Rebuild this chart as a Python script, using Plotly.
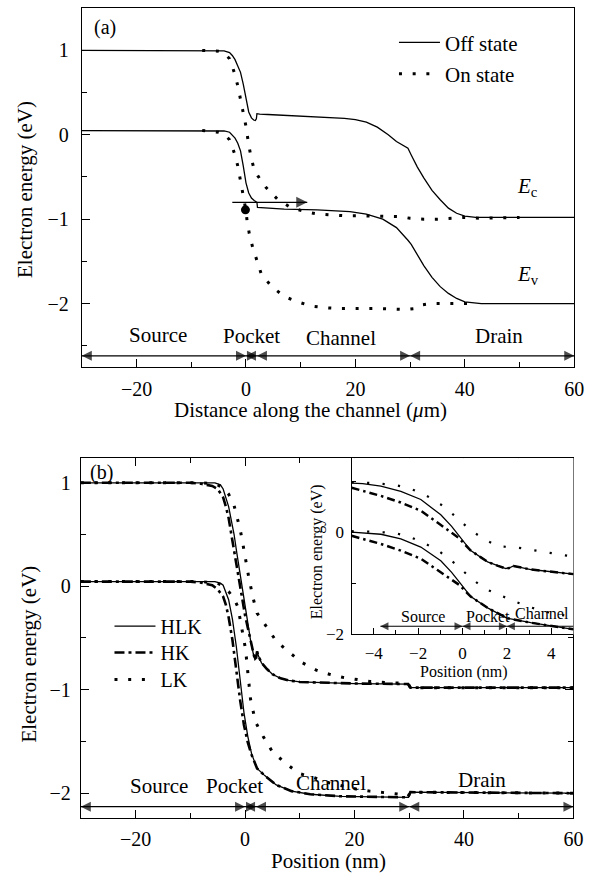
import plotly.graph_objects as go

FONT = "Liberation Serif, Times New Roman, Times, serif"

# ---------------- Panel (a): band diagram, off / on state ----------------
off_ec_x = [-30, -5, -4, -3, -2.5, -2, -1.5, -1, -0.5, 0, 0.5, 1.0, 1.4, 1.7, 1.9, 2.0, 2.5, 4, 7, 10, 15, 18, 20, 22, 24, 26, 27.5, 29, 29.6, 30.2, 31.3, 32.5, 34, 35.5, 37, 38.5, 40, 42, 60]
off_ec_y = [1.0, 1.0, 0.995, 0.975, 0.94, 0.89, 0.82, 0.74, 0.60, 0.41, 0.27, 0.20, 0.175, 0.17, 0.19, 0.25, 0.245, 0.24, 0.23, 0.22, 0.21, 0.195, 0.18, 0.15, 0.09, 0.0, -0.08, -0.14, -0.16, -0.24, -0.38, -0.51, -0.66, -0.77, -0.87, -0.93, -0.965, -0.98, -0.98]
off_ev_x = [-30, -5, -4, -3, -2.5, -2, -1.5, -1, -0.5, 0, 0.5, 1.0, 1.5, 2.0, 2.1, 4, 7, 13, 19, 22, 25, 27.5, 29, 29.6, 30.2, 31.3, 32.5, 34, 35.5, 37, 38.5, 40, 43, 60]
off_ev_y = [0.05, 0.05, 0.045, 0.03, 0.0, -0.04, -0.10, -0.19, -0.37, -0.57, -0.69, -0.75, -0.78, -0.80, -0.86, -0.87, -0.88, -0.89, -0.91, -0.94, -1.0, -1.10, -1.20, -1.25, -1.30, -1.42, -1.55, -1.69, -1.80, -1.88, -1.94, -1.98, -2.0, -2.0]
on_ec_x = [-8, -5, -4, -3, -2.5, -2, -1.5, -1, -0.5, 0, 0.5, 1.0, 1.5, 2.2, 3.6, 5.7, 8.1, 10.7, 13.2, 15.6, 18.2, 20.6, 25.7, 28.1, 30, 32.5, 35, 37.4, 40, 42.6, 50]
on_ec_y = [1.0, 0.99, 0.97, 0.90, 0.81, 0.71, 0.58, 0.43, 0.27, 0.10, -0.12, -0.29, -0.41, -0.49, -0.62, -0.76, -0.86, -0.91, -0.94, -0.95, -0.96, -0.96, -0.97, -0.97, -0.99, -1.0, -1.0, -0.99, -0.98, -0.99, -0.98]
on_ev_x = [-8, -5, -4, -3, -2.5, -2, -1.5, -1, -0.5, 0, 0.2, 0.6, 1.2, 2.0, 2.8, 4.7, 7.1, 9.5, 11.9, 14.5, 17, 24, 29.2, 30.7, 31.6, 34, 42]
on_ev_y = [0.05, 0.03, 0.01, -0.06, -0.15, -0.24, -0.37, -0.54, -0.70, -0.90, -1.02, -1.17, -1.33, -1.49, -1.65, -1.80, -1.92, -1.98, -2.03, -2.05, -2.06, -2.06, -2.07, -2.06, -2.02, -2.0, -2.0]
tunnel_x = [-2.5, 11.2]
tunnel_y = [-0.80, -0.80]
electron_x = [-0.1]
electron_y = [-0.89]

region_names = ["Source", "Pocket", "Channel", "Drain"]
region_bounds = [-30, 0, 2, 30, 60]

# ---------------- Panel (b): HLK / HK / LK ----------------
hlk_ec_x = [-30, -5.5, -4.5, -4, -3, -2, -1.5, -1, -0.5, 0, 0.5, 1.0, 1.5, 1.8, 2.0, 2.2, 2.5, 3, 4, 5, 6.5, 8, 10, 15, 20, 29.8, 30.2, 60]
hlk_ec_y = [1.0, 1.0, 0.98, 0.94, 0.77, 0.50, 0.32, 0.15, -0.03, -0.20, -0.37, -0.52, -0.65, -0.71, -0.70, -0.63, -0.68, -0.74, -0.80, -0.85, -0.89, -0.91, -0.925, -0.935, -0.94, -0.945, -0.98, -0.98]
hlk_ev_x = [-30, -5.5, -4.5, -4, -3, -2.3, -1.6, -0.9, -0.2, 0.5, 1.2, 2.2, 3.6, 5.7, 8.5, 11.9, 17.5, 29.8, 30.2, 60]
hlk_ev_y = [0.045, 0.045, 0.03, 0.01, -0.13, -0.32, -0.58, -0.93, -1.22, -1.45, -1.62, -1.76, -1.83, -1.92, -1.98, -2.01, -2.03, -2.04, -1.99, -2.0]
hk_ec_x = [-30, -10, -8, -6, -5, -4, -3.5, -3, -2.5, -2, -1.5, -1, -0.5, 0, 0.5, 1.0, 1.5, 1.8, 2.0, 2.2, 2.5, 3, 4, 5, 6.5, 8, 10, 15, 20, 29.8, 30.2, 60]
hk_ec_y = [1.0, 1.0, 0.99, 0.97, 0.94, 0.86, 0.77, 0.66, 0.50, 0.34, 0.17, 0.0, -0.15, -0.28, -0.40, -0.53, -0.65, -0.71, -0.70, -0.63, -0.68, -0.74, -0.80, -0.85, -0.89, -0.91, -0.925, -0.935, -0.94, -0.945, -0.98, -0.98]
hk_ev_x = [-30, -10, -8, -6, -5, -4, -3.5, -3, -2.3, -1.6, -0.9, -0.2, 0.5, 1.2, 2.2, 3.6, 5.7, 8.5, 11.9, 17.5, 29.8, 30.2, 60]
hk_ev_y = [0.045, 0.045, 0.035, 0.01, -0.03, -0.10, -0.18, -0.30, -0.52, -0.82, -1.10, -1.34, -1.51, -1.63, -1.76, -1.83, -1.92, -1.98, -2.01, -2.03, -2.04, -1.99, -2.0]
lk_ec_x = [-30, -8, -6, -5, -4, -3, -2, -1.3, -0.9, -0.5, -0.2, 0.1, 0.7, 1.5, 2.2, 3.9, 5.7, 8.1, 10.5, 13, 15.4, 17.8, 20.3, 22.8, 25.7, 28.2, 29.8, 30.2, 60]
lk_ec_y = [1.0, 1.0, 0.99, 0.98, 0.95, 0.89, 0.78, 0.65, 0.55, 0.44, 0.35, 0.25, 0.08, -0.12, -0.26, -0.39, -0.53, -0.64, -0.74, -0.81, -0.85, -0.88, -0.90, -0.92, -0.93, -0.935, -0.94, -0.98, -0.98]
lk_ev_x = [-30, -8, -5, -4, -3, -2, -1.3, -0.6, 0.1, 0.5, 1.0, 1.9, 3.3, 5.0, 7.4, 9.9, 12.6, 15.4, 17.8, 20.3, 22.8, 25.7, 28.2, 29.8, 30.2, 60]
lk_ev_y = [0.045, 0.045, 0.03, 0.0, -0.05, -0.12, -0.20, -0.39, -0.61, -0.83, -1.09, -1.31, -1.45, -1.60, -1.71, -1.81, -1.85, -1.90, -1.93, -1.96, -1.98, -2.0, -2.01, -2.03, -1.99, -2.0]

# ---------------- Inset of panel (b) ----------------
in_hlk_ec_x = [-5, -4.5, -3.68, -2.78, -1.88, -0.98, -0.5, -0.15, 0.37, 1.13, 1.6, 1.95, 2.1, 2.3, 3.08, 4.1, 5]
in_hlk_ec_y = [0.96, 0.95, 0.90, 0.80, 0.64, 0.34, 0.12, -0.08, -0.36, -0.58, -0.66, -0.71, -0.70, -0.66, -0.73, -0.77, -0.82]
in_hk_ec_x = [-5, -3.68, -2.78, -1.88, -1.13, -0.5, -0.15, 0.37, 1.13, 1.6, 1.95, 2.1, 2.3, 3.08, 4.1, 5]
in_hk_ec_y = [0.87, 0.71, 0.58, 0.42, 0.19, -0.01, -0.12, -0.36, -0.58, -0.66, -0.71, -0.70, -0.66, -0.73, -0.77, -0.82]
in_hlk_ev_x = [-5, -4.5, -3.68, -2.78, -1.88, -0.98, -0.5, -0.15, 0.37, 1.13, 2.0, 3.08, 4.1, 5]
in_hlk_ev_y = [0.0, -0.01, -0.04, -0.13, -0.29, -0.56, -0.78, -0.97, -1.26, -1.48, -1.68, -1.77, -1.84, -1.90]
in_hk_ev_x = [-5, -3.68, -2.78, -1.88, -1.13, -0.5, -0.15, 0.37, 1.13, 2.0, 3.08, 4.1, 5]
in_hk_ev_y = [-0.07, -0.23, -0.36, -0.52, -0.74, -0.93, -1.03, -1.26, -1.48, -1.68, -1.77, -1.84, -1.90]
in_lk_x = [-5, -4, -3.0, -2.33, -1.65, -1.0, -0.35, 0.31, 0.97, 1.65, 2.33, 3.0, 3.68, 4.35, 5]
in_lk_ec_y = [0.98, 0.96, 0.92, 0.85, 0.72, 0.55, 0.32, 0.06, -0.14, -0.28, -0.29, -0.34, -0.39, -0.44, -0.48]
in_lk_ev_y = [0.02, 0.01, -0.02, -0.10, -0.23, -0.39, -0.61, -0.87, -1.10, -1.23, -1.35, -1.46, -1.55, -1.61, -1.66]
inset_region_names = ["Source", "Pocket", "Channel"]
inset_region_bounds = [-3.7, 0, 2, 5]

pairs = [(off_ec_x, off_ec_y), (off_ev_x, off_ev_y), (on_ec_x, on_ec_y), (on_ev_x, on_ev_y),
         (hlk_ec_x, hlk_ec_y), (hlk_ev_x, hlk_ev_y), (hk_ec_x, hk_ec_y), (hk_ev_x, hk_ev_y),
         (lk_ec_x, lk_ec_y), (lk_ev_x, lk_ev_y), (in_hlk_ec_x, in_hlk_ec_y), (in_hk_ec_x, in_hk_ec_y),
         (in_hlk_ev_x, in_hlk_ev_y), (in_hk_ev_x, in_hk_ev_y), (in_lk_x, in_lk_ec_y), (in_lk_x, in_lk_ev_y)]
for i, (a, b) in enumerate(pairs):
    if len(a) != len(b):
        raise ValueError(f"length mismatch in pair {i}: {len(a)} vs {len(b)}")

# Layout is designed on a 594 x 885 grid (paper fractions); the page is drawn 605 px wide.
W0, H0 = 594, 885
W, H = 605, 885
KX = W / W0
def px(x): return x / W0
def py(y): return 1 - y / H0

SOLID = dict(color="black", width=1.3)
DOTS = dict(color="black", width=3, dash="3px,10.7px")
DASHDOT = dict(color="black", width=2.6, dash="10px,4px,3px,4px")
IN_DOTS = dict(color="black", width=2.2, dash="2.2px,13.3px")
IN_DASHDOT = dict(color="black", width=2.5, dash="8px,4px,2.5px,4px")

fig = go.Figure()

def line(x, y, xa, ya, style, name=None, legend="legend"):
    fig.add_trace(go.Scatter(x=x, y=y, xaxis=xa, yaxis=ya, mode="lines", line=style,
                             name=name or "", showlegend=name is not None,
                             legend=legend, hoverinfo="skip"))

def arrow(x0, x1, y, xa, ya, heads=("arrow-left", "arrow-right"), size=10):
    sym = [h or "circle" for h in heads]
    sz = [size if h else 0 for h in heads]
    fig.add_trace(go.Scatter(x=[x0, x1], y=[y, y], xaxis=xa, yaxis=ya, mode="lines+markers",
                             line=dict(color="black", width=1.2),
                             marker=dict(symbol=sym, size=sz, color="black", line=dict(width=0)),
                             showlegend=False, hoverinfo="skip", cliponaxis=False))

# panel (a)
line(off_ec_x, off_ec_y, "x", "y", SOLID, "Off state", "legend")
line(off_ev_x, off_ev_y, "x", "y", SOLID)
line(on_ec_x, on_ec_y, "x", "y", DOTS, "On state", "legend2")
line(on_ev_x, on_ev_y, "x", "y", DOTS)
fig.add_trace(go.Scatter(x=electron_x, y=electron_y, xaxis="x", yaxis="y", mode="markers",
                         marker=dict(color="black", size=9), showlegend=False, hoverinfo="skip"))
arrow(tunnel_x[0], tunnel_x[1], tunnel_y[0], "x", "y", heads=(None, "arrow-right"), size=11)

# panel (b)
line(hlk_ec_x, hlk_ec_y, "x2", "y2", SOLID, "HLK", "legend3")
line(hlk_ev_x, hlk_ev_y, "x2", "y2", SOLID)
line(hk_ec_x, hk_ec_y, "x2", "y2", DASHDOT, "HK", "legend4")
line(hk_ev_x, hk_ev_y, "x2", "y2", DASHDOT)
line(lk_ec_x, lk_ec_y, "x2", "y2", DOTS, "LK", "legend5")
line(lk_ev_x, lk_ev_y, "x2", "y2", DOTS)

# inset
line(in_hlk_ec_x, in_hlk_ec_y, "x3", "y3", SOLID)
line(in_hlk_ev_x, in_hlk_ev_y, "x3", "y3", SOLID)
line(in_hk_ec_x, in_hk_ec_y, "x3", "y3", IN_DASHDOT)
line(in_hk_ev_x, in_hk_ev_y, "x3", "y3", IN_DASHDOT)
line(in_lk_x, in_lk_ec_y, "x3", "y3", IN_DOTS)
line(in_lk_x, in_lk_ev_y, "x3", "y3", IN_DOTS)

# region arrows
for i in range(len(region_names)):
    arrow(region_bounds[i], region_bounds[i + 1], -2.62, "x", "y")
    arrow(region_bounds[i], region_bounds[i + 1], -2.13, "x2", "y2")
for i in range(len(inset_region_names)):
    heads = ("arrow-left", None) if i == len(inset_region_names) - 1 else ("arrow-left", "arrow-right")
    arrow(inset_region_bounds[i], inset_region_bounds[i + 1], -1.84, "x3", "y3", heads=heads, size=8)

tickfont = dict(family=FONT, size=20, color="black")
minor_style = dict(ticks="inside", ticklen=5, tickcolor="black", tickwidth=1.2)
common = dict(showgrid=False, zeroline=False, showline=True, linecolor="black", linewidth=1.2,
              ticks="inside", ticklen=8, tickwidth=1.2, tickcolor="black", tickfont=tickfont)

def leg(xpx, ypx, size=20):
    return dict(x=px(xpx), y=py(ypx), xanchor="left", yanchor="middle", bgcolor="rgba(0,0,0,0)",
                borderwidth=0, font=dict(family=FONT, size=size, color="black"),
                itemwidth=round(40 * KX))

fig.update_layout(
    width=W, height=H, margin=dict(l=0, r=0, t=0, b=0),
    paper_bgcolor="white", plot_bgcolor="white",
    font=dict(family=FONT, color="black"),
    xaxis=dict(common, domain=[px(81.7), px(573.3)], range=[-30, 60], tick0=0, dtick=20,
               anchor="y", mirror=True, ticklabelstandoff=4, minor=dict(minor_style, dtick=10)),
    yaxis=dict(common, domain=[py(371), py(8.3)], range=[-2.75, 1.5], tick0=0, dtick=1,
               anchor="x", mirror=True, ticklabelstandoff=8, minor=dict(minor_style, dtick=0.5)),
    xaxis2=dict(common, domain=[px(80.7), px(572.5)], range=[-30, 60], tick0=0, dtick=20,
                anchor="y2", mirror="allticks", ticklabelstandoff=3, minor=dict(minor_style, dtick=10)),
    yaxis2=dict(common, domain=[py(827.7), py(463.3)], range=[-2.243, 1.239], tick0=0, dtick=1,
                anchor="x2", mirror="allticks", ticklabelstandoff=5, minor=dict(minor_style, dtick=0.5)),
    xaxis3=dict(common, domain=[px(351), px(572.5)], range=[-5, 5], tick0=0, dtick=2,
                anchor="y3", ticklen=6, ticklabelstandoff=3,
                tickfont=dict(family=FONT, size=17, color="black"),
                minor=dict(minor_style, dtick=1, ticklen=4)),
    yaxis3=dict(common, domain=[py(641.7), py(463.3)], range=[-2, 1.45], tick0=0, dtick=2,
                anchor="x3", ticklen=6, ticklabelstandoff=3,
                tickfont=dict(family=FONT, size=17, color="black"),
                minor=dict(minor_style, dtick=1, ticklen=4)),
    legend=leg(393.3, 43.3, 21),
    legend2=leg(393.3, 75, 21),
    legend3=leg(109.3, 633.3),
    legend4=leg(109.3, 660),
    legend5=leg(109.3, 687.3),
)

ann_font = dict(family=FONT, size=21, color="black")
small_font = dict(family=FONT, size=16, color="black")
label_font = dict(family=FONT, size=20, color="black")

def text(x, y, txt, xref="paper", yref="paper", font=ann_font, angle=0, xanchor="center"):
    fig.add_annotation(x=x, y=y, xref=xref, yref=yref, text=txt, showarrow=False,
                       font=font, textangle=angle, xanchor=xanchor, yanchor="middle")

# panel labels and axis titles
text(px(91.7), py(27.5), "(a)", xanchor="left", font=label_font)
text(px(88.3), py(477.5), "(b)", xanchor="left", font=label_font)
text(px(25.6), py(191.5), "Electron energy (eV)", angle=-90)
text(px(29.3), py(661.7), "Electron energy (eV)", angle=-90)
text(px(310.4), py(415), "Distance along the channel (<i>μ</i>m)")
text(px(327.8), py(871), "Position (nm)")
text(px(316), py(558), "Electron energy (eV)", font=small_font, angle=-90)
text(px(463), py(679.3), "Position (nm)", font=small_font)

# band labels
text(51.5, -0.62, "<i>E</i><sub>c</sub>", "x", "y")
text(51.5, -1.66, "<i>E</i><sub>v</sub>", "x", "y")

# region labels
a_label_x = [-16.0, 1.0, 17.3, 46.3]
a_label_y = [-2.37, -2.38, -2.41, -2.39]
b_label_x = [-15.7, -2.0, 15.7, 43.2]
b_label_y = [-1.93, -1.93, -1.90, -1.87]
for i, nm in enumerate(region_names):
    text(a_label_x[i], a_label_y[i], nm, "x", "y")
    text(b_label_x[i], b_label_y[i], nm, "x2", "y2")

in_label_x = [-1.8, 1.14, 3.56]
in_label_y = [-1.64, -1.64, -1.60]
for i, nm in enumerate(inset_region_names):
    text(in_label_x[i], in_label_y[i], nm, "x3", "y3", font=small_font)

page_css = ("document.documentElement.style.margin='0';document.documentElement.style.overflow='hidden';"
            "document.body.style.margin='0';document.body.style.overflow='hidden';")
fig.write_html("out.html", post_script=page_css)
